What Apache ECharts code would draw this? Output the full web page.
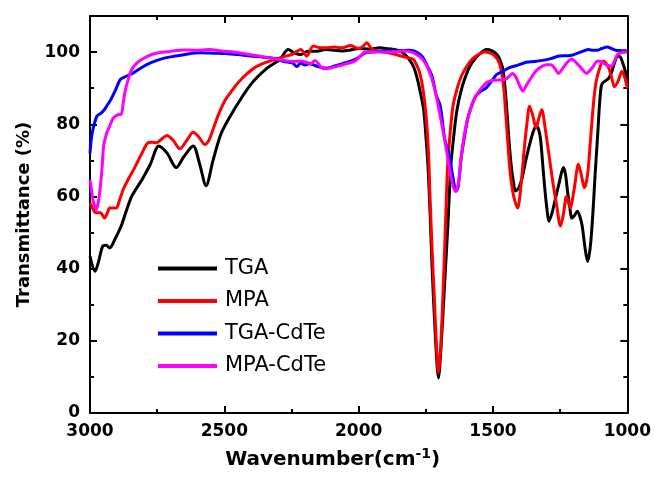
<!DOCTYPE html>
<html>
<head>
<meta charset="utf-8">
<script src="https://cdn.jsdelivr.net/npm/echarts@6/dist/echarts.min.js"></script>
<style>html,body{margin:0;padding:0;background:#fff}#c{width:654px;height:482px}</style>
</head>
<body>
<div id="c"></div>
<script>
const seriesNames = ['TGA', 'MPA', 'TGA-CdTe', 'MPA-CdTe'];
const xTicks = [3000, 2500, 2000, 1500, 1000];
const yTicks = [0, 20, 40, 60, 80, 100];

const tgaX = [3000,2981,2968,2953,2940,2927,2905,2884,2865,2845,2825,2806,2775,2744,2713,2679,2651,2616,2592,2568,2542,2511,2464,2402,2340,2293,2262,2240,2216,2185,2160,2123,2090,2061,2030,1998,1960,1921,1890,1859,1835,1812,1795,1781,1768,1758,1750,1742,1734,1727,1715,1703,1692,1680,1668,1657,1645,1634,1618,1602,1585,1564,1545,1525,1505,1486,1475,1463,1455,1447,1440,1432,1424,1416,1405,1393,1378,1362,1350,1339,1330,1323,1315,1308,1300,1292,1280,1269,1253,1238,1230,1222,1214,1207,1196,1186,1177,1168,1158,1148,1138,1129,1120,1110,1104,1097,1090,1082,1070,1059,1048,1036,1026,1017,1008,1000];
const tgaY = [43.4,39.3,42,46.2,46.5,45.7,48.5,51.8,56,60,62.5,64.7,69,74,72,68,71,74,69,63,70,77.6,84,91,95.6,98,100.7,99.8,99.3,100.3,100.2,100.7,100.5,100.3,100.6,101,100.8,101.2,100.9,100.6,99.8,98,95.8,92.4,88,84,77,68.4,55,40.7,22,9.7,20,36,52,68.4,77.5,84,89.5,93.3,96.2,98.4,99.8,100.7,100.4,99.4,98,95.2,90,82.3,75,68.4,64,61.5,62.3,64.7,70,74.9,78,79.5,78.5,75.8,69,62.8,57,53.1,55.5,59,64,68,66,61,57,54,54.8,55.9,54.5,51.8,46,42,46,54.5,66,77.6,85,90.6,91.6,92,92.7,94.3,97,98.9,98.6,97,94.8,92.4];

const mpaX = [3000,2985,2977,2961,2946,2935,2927,2910,2902,2890,2876,2856,2837,2810,2783,2770,2752,2735,2713,2690,2666,2640,2616,2595,2573,2558,2542,2520,2495,2470,2449,2420,2387,2350,2309,2280,2247,2230,2216,2193,2169,2150,2123,2090,2061,2030,2010,1998,1985,1970,1955,1936,1910,1890,1865,1843,1820,1797,1785,1773,1760,1749,1740,1734,1726,1718,1710,1703,1695,1687,1678,1669,1659,1649,1635,1618,1598,1578,1555,1532,1510,1493,1480,1470,1460,1452,1444,1436,1428,1420,1413,1408,1396,1384,1374,1364,1352,1340,1330,1318,1308,1298,1286,1275,1262,1249,1238,1227,1220,1213,1198,1182,1170,1160,1148,1137,1127,1117,1103,1090,1078,1067,1057,1048,1034,1020,1010,1000];
const mpaY = [58.2,56,55.5,55.5,54,55.5,56.8,56.8,56.8,59,62,65,67.5,71.5,74.9,75,74.9,75.8,76.9,75.5,73.2,75.5,77.8,76.5,74.4,75.5,78.6,83,86.9,89.5,91.5,93.7,95.7,97,98,98.7,99.4,100.2,100.7,98.9,101.7,101.3,101.2,101.4,101.2,101.8,101.2,101,101.5,102.6,101.2,100.3,100,99.8,99.4,98.9,98.5,98,96.5,94.3,89.5,82.3,72,59.1,44,31.4,18,11.1,18,31.4,50,68.4,78,85,89.5,93.3,96,98,99.3,100,99.7,98.9,97.6,95.2,90,82.3,74,66.5,62,59.1,57.5,56.8,63,73,80,85,82.5,79,81.5,84.1,80,74.9,68.5,62.8,57,51.8,55,60,58.5,56.8,62,68.9,65.5,62.4,66,75.8,85,91.5,95.5,97.5,96.8,95.2,92.5,90.4,92,94.7,93,90];

const tgacdX = [3000,2995,2989,2974,2960,2946,2934,2922,2905,2887,2865,2837,2806,2775,2730,2682,2635,2588,2540,2495,2450,2402,2355,2309,2278,2247,2230,2215,2200,2185,2160,2138,2115,2092,2060,2030,2000,1975,1940,1905,1860,1812,1790,1765,1742,1727,1711,1696,1680,1665,1652,1645,1638,1630,1618,1605,1595,1580,1564,1545,1525,1505,1486,1460,1439,1410,1377,1345,1316,1285,1254,1230,1207,1175,1144,1128,1113,1095,1075,1060,1043,1020,1000];
const tgacdY = [72,76,78.6,82.3,83,84.1,85.5,86.9,89.5,92.4,93.3,94.3,95.8,97,98.2,98.9,99.5,99.8,99.7,99.6,99.3,98.9,98.6,98.2,97.4,97,96,97,96.4,96.8,96.2,95.7,95.6,96.1,96.8,97.5,98.5,99.8,100.1,100.3,100.4,100.5,100.2,98.9,95.8,93.3,88,85,76,72,66.5,63.5,61.5,62.5,71,77,81.3,85,87.8,89.2,90.1,92,93.8,94.8,95.7,96.3,97.2,97.4,97.7,98.2,98.9,99,99.1,100,100.7,100.5,100.5,101,101.4,101,100.5,100.4,100.3];

const mpacdX = [3000,2994,2989,2983,2977,2970,2964,2956,2949,2938,2927,2915,2902,2890,2884,2876,2868,2855,2845,2825,2806,2775,2744,2700,2651,2605,2557,2510,2464,2420,2371,2325,2278,2245,2216,2195,2177,2170,2162,2150,2131,2105,2076,2045,2014,1995,1975,1940,1905,1865,1828,1800,1781,1762,1742,1727,1711,1696,1680,1668,1657,1647,1638,1628,1618,1607,1595,1580,1564,1545,1525,1510,1493,1475,1455,1440,1427,1418,1408,1398,1389,1378,1362,1340,1316,1300,1285,1270,1257,1240,1222,1207,1195,1183,1168,1152,1132,1110,1095,1079,1070,1059,1048,1036,1020,1000];
const mpacdY = [64.7,61.5,59.1,57.5,56.4,58,61,67,74,77.5,79.5,81.5,82.4,82.7,82.7,86,89.6,93,95.2,97,98,99.2,99.8,100.2,100.6,100.5,100.7,100.3,100,99.5,98.9,98.3,97.7,97.4,97.5,97.2,96.8,97.3,97.7,96.8,95.4,95.6,96.1,96.8,97.5,98.8,100,100,100,100.1,100.3,99.9,99.1,98,95.5,92.5,87.8,82,75.8,70.5,65.6,62.5,61.4,64,71.2,77,81.3,85,87.8,89.8,91.5,92,92.2,92.3,92.4,93.3,94.1,93.5,92,90.2,89.2,90.5,92.4,94.8,96.1,96.5,96.5,95.5,94.1,95.5,97.3,98,97.4,96.5,95.2,94.1,95.5,97.5,97.2,96.5,96.3,96.1,97.5,99.4,99.9,100];

function pairs(xs, ys) { return xs.map((x, i) => [x, ys[i]]); }

const colors = ['#000000', '#ff0000', '#0000ff', '#ff00ff'];
const dataSets = [pairs(tgaX, tgaY), pairs(mpaX, mpaY), pairs(tgacdX, tgacdY), pairs(mpacdX, mpacdY)];

const labelFont = { fontFamily: 'DejaVu Sans', fontWeight: 'bold', fontSize: 17, color: '#000' };
const axLine = { show: true, onZero: false, lineStyle: { color: '#000', width: 2 } };
const tick = { show: true, inside: true, length: 7, lineStyle: { color: '#000', width: 2 } };
const minor = { show: true, splitNumber: 2, length: 4, lineStyle: { color: '#000', width: 2 } };

const chart = echarts.init(document.getElementById('c'), null, { renderer: 'canvas' });
chart.setOption({
  animation: false,
  backgroundColor: '#fff',
  grid: { left: 90, right: 25, top: 16, bottom: 69 },
  legend: {
    orient: 'vertical',
    left: 153, top: 253,
    icon: 'rect',
    itemWidth: 59, itemHeight: 4, itemGap: 11.5,
    data: seriesNames.map((n, i) => ({ name: n, itemStyle: { color: colors[i] } })),
    textStyle: { fontFamily: 'DejaVu Sans', fontSize: 21, color: '#000', lineHeight: 16, padding: [0, 0, 0, 3] }
  },
  xAxis: [{
    type: 'value', min: 1000, max: 3000, interval: 500, inverse: true,
    axisLine: axLine, axisTick: tick, minorTick: minor, splitLine: { show: false },
    axisLabel: Object.assign({ margin: 10, formatter: v => xTicks.includes(v) ? String(v) : '' }, labelFont),
    name: 'Wavenumber(cm{sup|-1})', nameLocation: 'middle', nameGap: 34,
    nameTextStyle: {
      fontFamily: 'DejaVu Sans', fontWeight: 'bold', fontSize: 20, color: '#000',
      padding: [0, 52, 0, 0],
      rich: { sup: { fontFamily: 'DejaVu Sans', fontWeight: 'bold', fontSize: 14, verticalAlign: 'top', padding: [0, 0, 12, 0] } }
    }
  }, {
    type: 'value', position: 'top', min: 1000, max: 3000, interval: 500, inverse: true,
    axisLine: axLine, axisTick: tick, minorTick: minor, splitLine: { show: false },
    axisLabel: { show: false }
  }],
  yAxis: [{
    type: 'value', min: 0, max: 110, interval: 20,
    axisLine: axLine, axisTick: tick, minorTick: minor, splitLine: { show: false },
    axisLabel: Object.assign({ margin: 10, showMaxLabel: false, formatter: v => yTicks.includes(v) ? String(v) : '' }, labelFont),
    name: 'Transmittance (%)', nameLocation: 'middle', nameGap: 56, nameRotate: 90,
    nameTextStyle: { fontFamily: 'DejaVu Sans', fontWeight: 'bold', fontSize: 18, color: '#000' }
  }, {
    type: 'value', position: 'right', min: 0, max: 110, interval: 20,
    axisLine: axLine, axisTick: tick, minorTick: minor, splitLine: { show: false },
    axisLabel: { show: false }
  }],
  series: seriesNames.map((n, i) => ({
    name: n, type: 'line', xAxisIndex: 0, yAxisIndex: 0,
    data: dataSets[i], showSymbol: false, symbol: 'none', smooth: 0.3,
    lineStyle: { color: colors[i], width: 3 }, itemStyle: { color: colors[i] },
    z: 2 + i
  }))
});
</script>
</body>
</html>
